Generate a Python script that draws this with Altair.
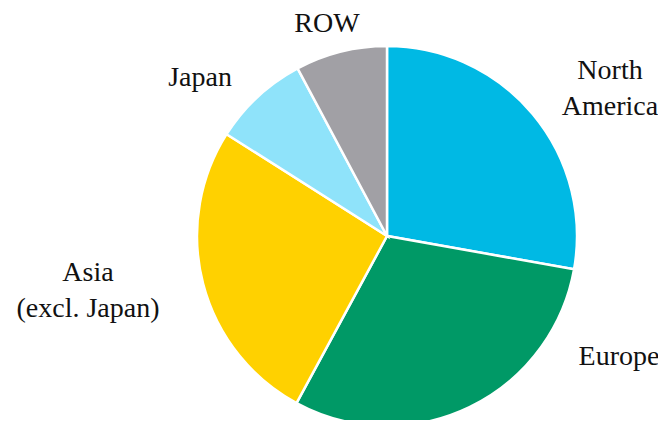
import altair as alt
import pandas as pd

regions = ["North America", "Europe", "Asia (excl. Japan)", "Japan", "ROW"]
shares = [27.8, 30.1, 26.1, 8.2, 7.8]
colors = ["#00B9E4", "#009966", "#FFD100", "#8FE3FA", "#A1A0A5"]

label_text = ["North\nAmerica", "Europe", "Asia\n(excl. Japan)", "Japan", "ROW"]
label_x = [602, 611, 80, 192, 319]
label_y = [63, 349, 265, 70, 16]

df = pd.DataFrame({"region": regions, "share": shares, "idx": list(range(len(regions)))})
lab = pd.DataFrame({"label": label_text, "lx": label_x, "ly": label_y})

pie = alt.Chart(df).mark_arc(radius=190, stroke="white", strokeWidth=2.5).encode(
    theta=alt.Theta("share:Q", stack=True),
    order=alt.Order("idx:Q"),
    color=alt.Color("region:N", scale=alt.Scale(domain=regions, range=colors), legend=None),
    x=alt.value(379),
    y=alt.value(228),
)

text = alt.Chart(lab).mark_text(
    font="Liberation Serif", fontSize=28, lineBreak="\n", align="center", baseline="middle",
    color="#111111", lineHeight=36,
).encode(
    x=alt.X("lx:Q", scale=None),
    y=alt.Y("ly:Q", scale=None),
    text="label:N",
)

chart = alt.layer(pie, text).properties(
    width=650, height=412, padding=0, autosize=alt.AutoSizeParams(type="none")
).configure_view(stroke=None)
chart.save("out.html", embed_options={"renderer": "svg", "actions": False})
